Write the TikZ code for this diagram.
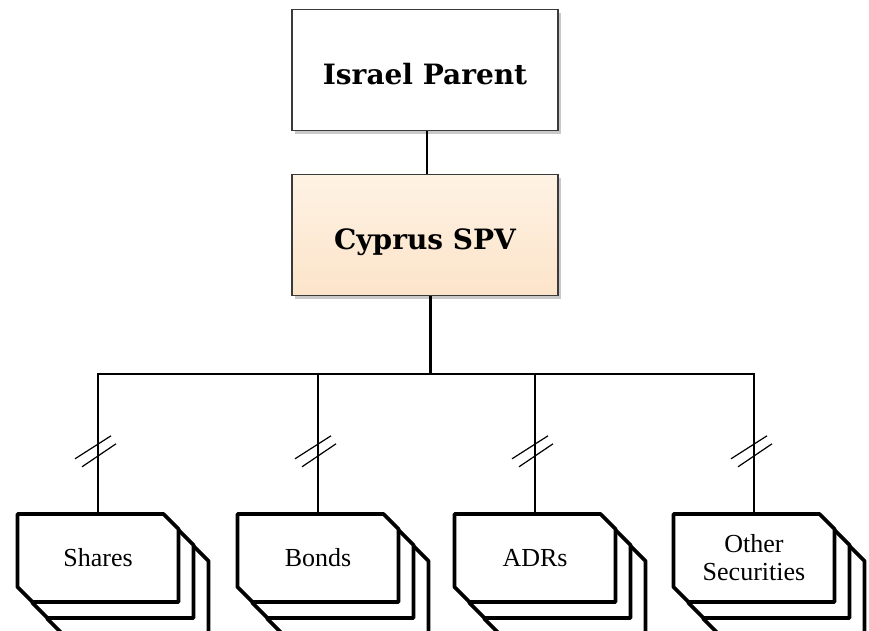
\documentclass[tikz,border=0pt]{standalone}
\usepackage{fontspec}
\setmainfont{Liberation Serif}
\newfontfamily\headfont{DejaVu Serif}
\usetikzlibrary{calc,shadows}

\definecolor{boxedge}{HTML}{3A3A3A}
\definecolor{peachtop}{HTML}{FEF2E4}
\definecolor{peachbot}{HTML}{FCE4C9}

\tikzset{
  topbox/.style={draw=boxedge, line width=1.5pt, minimum width=266pt, minimum height=121pt,
    inner sep=0pt, text height=28pt, text depth=0pt,
    font=\headfont\bfseries\fontsize{28}{33}\selectfont,
    drop shadow={shadow xshift=3pt, shadow yshift=-3pt, opacity=0.35, fill=black!60}},
  parentbox/.style={topbox, fill=white},
  spvbox/.style={topbox, top color=peachtop, bottom color=peachbot},
  cardtext/.style={minimum width=161pt, minimum height=88pt, inner sep=0pt, align=center,
    font=\fontsize{26}{28}\selectfont},
  cardline/.style={draw=black, fill=white, line width=3.8pt, line join=round},
  link/.style={draw=black, line width=1.2pt},
  trunk/.style={draw=black, line width=3pt},
  pics/hashmark/.style={code={
    \draw[link] (-23,8) -- (13,-15);
    \draw[link] (-16,16) -- (18,-7);
  }}
}

% a stack of three chamfered cards with a label on the front one
\newcommand\secstack[3]{%
  \foreach \k in {2,1,0}{%
    \draw[cardline, shift={($(#2)+(15*\k,16*\k)$)}]
      (-80.5,-44) -- (65.5,-44) -- (80.5,-29) -- (80.5,44)
      -- (-65.5,44) -- (-80.5,29) -- cycle;
  }
  \node[cardtext] (#1) at (#2) {#3};
}

\begin{document}
\begin{tikzpicture}[x=1pt, y=-1pt]
  \useasboundingbox[fill=white] (0,0) rectangle (869,630);

  \node[parentbox] (parent) at (425,70) {Israel Parent};
  \node[spvbox] (spv) at (425,235) {Cyprus SPV};

  \draw[link] ([xshift=2pt]parent.south) -- ([xshift=2pt]spv.north);

  \coordinate (bus) at (430,374);
  \draw[trunk] ([xshift=5pt]spv.south) -- (bus);

  \secstack{shares}{98,558}{Shares}
  \secstack{bonds}{318,558}{Bonds}
  \secstack{adrs}{535,558}{ADRs}
  \secstack{other}{754,558}{Other\\Securities}

  \foreach \n in {shares,bonds,adrs,other}{
    \draw[link] (bus) -| (\n.north);
    \pic at ($(\n.north)+(0,-63)$) {hashmark};
  }
\end{tikzpicture}
\end{document}
